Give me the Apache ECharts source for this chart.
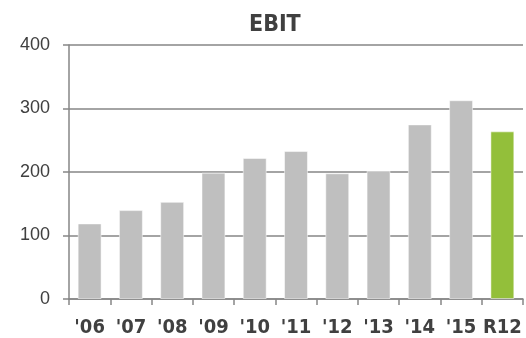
<!DOCTYPE html>
<html>
<head>
<meta charset="utf-8">
<script src="https://cdn.jsdelivr.net/npm/echarts@6/dist/echarts.min.js"></script>
<style>
  html, body { margin: 0; padding: 0; background: #fff; }
  #chart { width: 526px; height: 338px; }
</style>
</head>
<body>
<div id="chart"></div>
<script>
// EBIT per year plus rolling twelve months
const categories = ["'06", "'07", "'08", "'09", "'10", "'11", "'12", "'13", "'14", "'15", "R12"];
const ebit = [119, 140, 153, 199, 222, 233, 198, 202, 275, 313, 264];
const yTicks = [0, 100, 200, 300, 400];

const GREY = '#bfbfbf';
const GREEN = '#93bf3a';
const FONT = '"DejaVu Sans Condensed", "Liberation Sans Narrow", sans-serif';

const chart = echarts.init(document.getElementById('chart'), null, { renderer: 'canvas' });

chart.setOption({
  animation: false,
  title: {
    text: 'EBIT',
    left: 244,
    top: 9,
    textStyle: { fontFamily: FONT, fontWeight: 'bold', fontSize: 23, color: '#404040' }
  },
  grid: { left: 69, right: 3, top: 45, bottom: 39, containLabel: false },
  xAxis: {
    type: 'category',
    data: categories,
    axisLine: { lineStyle: { color: '#868686', width: 1.5 } },
    axisTick: { show: true, length: 6, lineStyle: { color: '#868686', width: 1.5 } },
    axisLabel: {
      interval: 0,
      fontFamily: FONT, fontWeight: 'bold', fontSize: 20, color: '#404040', margin: 19
    }
  },
  yAxis: {
    type: 'value',
    min: yTicks[0],
    max: yTicks[yTicks.length - 1],
    interval: 100,
    axisLine: { show: true, lineStyle: { color: '#868686', width: 1.5 } },
    axisTick: { show: true, length: 6, lineStyle: { color: '#868686', width: 1.5 } },
    splitLine: { lineStyle: { color: '#868686', width: 1.5 } },
    axisLabel: { fontFamily: '"Liberation Sans", sans-serif', fontSize: 18, color: '#404040', margin: 19 }
  },
  series: [{
    type: 'bar',
    data: ebit.map((v, i) => ({
      value: v,
      itemStyle: { color: i === ebit.length - 1 ? GREEN : GREY }
    })),
    barCategoryGap: '42%',
    itemStyle: { borderColor: 'rgba(255,255,255,0.5)', borderWidth: 1 }
  }]
});
</script>
</body>
</html>
